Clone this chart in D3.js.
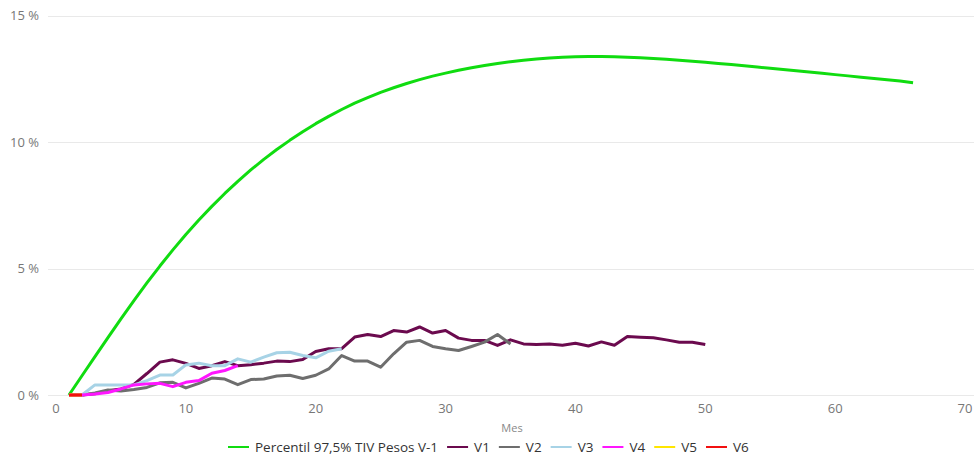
<!DOCTYPE html>
<html>
<head>
<meta charset="utf-8">
<script src="https://cdn.jsdelivr.net/npm/d3@7"></script>
<style>
  body { margin: 0; background: #fff; }
  svg text { font-family: "Segoe UI", "Open Sans", "Noto Sans", sans-serif; }
</style>
</head>
<body>
<div id="chart"></div>
<script>
// months on x axis, values in %
const percentil = [
    0, 0.76, 1.52, 2.27, 3.01, 3.73, 4.43, 5.10, 5.74, 6.35,
    6.92, 7.46, 7.97, 8.45, 8.90, 9.32, 9.71, 10.07, 10.41, 10.73,
    11.02, 11.29, 11.54, 11.76, 11.97, 12.15, 12.32, 12.47, 12.61, 12.73,
    12.84, 12.94, 13.03, 13.11, 13.18, 13.24, 13.29, 13.33, 13.36, 13.38,
    13.39, 13.39, 13.38, 13.36, 13.34, 13.31, 13.28, 13.24, 13.20, 13.16,
    13.11, 13.07, 13.02, 12.97, 12.92, 12.87, 12.82, 12.77, 12.72, 12.67,
    12.62, 12.57, 12.52, 12.47, 12.42, 12.35
];

// V1: months 1..50
const v1 = [
    0, 0, 0.05, 0.17, 0.24, 0.42, 0.85, 1.3, 1.39, 1.25,
    1.05, 1.16, 1.32, 1.16, 1.2, 1.26, 1.34, 1.32, 1.4, 1.72,
    1.83, 1.83, 2.29, 2.39, 2.31, 2.55, 2.49, 2.69, 2.45, 2.55,
    2.25, 2.16, 2.16, 1.96, 2.18, 2.02, 2.0, 2.02, 1.97, 2.05,
    1.94, 2.1, 1.97, 2.31, 2.28, 2.26, 2.18, 2.09, 2.09, 2.0
];
// V2: months 1..35
const v2 = [
    0, 0, 0.08, 0.2, 0.16, 0.22, 0.3, 0.48, 0.5, 0.28,
    0.46, 0.67, 0.63, 0.41, 0.61, 0.63, 0.75, 0.78, 0.65, 0.78,
    1.03, 1.56, 1.34, 1.34, 1.1, 1.63, 2.09, 2.16, 1.92, 1.83,
    1.76, 1.92, 2.09, 2.39, 2.02
];
// V3: months 1..22
const v3 = [
    0, 0, 0.4, 0.4, 0.4, 0.4, 0.57, 0.79, 0.79, 1.19,
    1.26, 1.16, 1.16, 1.43, 1.3, 1.5, 1.67, 1.69, 1.56, 1.47,
    1.73, 1.83
];
// V4: months 1..14
const v4 = [0, 0, 0.04, 0.1, 0.24, 0.4, 0.44, 0.46, 0.33, 0.5, 0.57, 0.86, 0.97, 1.16];
const v5 = [0, 0];
const v6 = [0, 0];

const seriesNames = ['Percentil 97,5% TIV Pesos V-1', 'V1', 'V2', 'V3', 'V4', 'V5', 'V6'];
const seriesValues = [percentil, v1, v2, v3, v4, v5, v6];
const seriesColors = ['#10dc10', '#6b0a4e', '#6e6e6e', '#a7d3e6', '#ff16ff', '#ffe600', '#f21010'];

const xTicks = [0, 10, 20, 30, 40, 50, 60, 70];
const yTicks = [0, 5, 10, 15];

const width = 974, height = 457;

const svg = d3.select('#chart')
    .append('svg')
    .attr('width', width)
    .attr('height', height);

const x = d3.scaleLinear().domain([0, 70]).range([56, 965]);
const y = d3.scaleLinear().domain([0, 15]).range([395, 15.7]);

// gridlines
svg.append('g')
    .selectAll('line')
    .data(yTicks)
    .enter()
    .append('line')
    .attr('x1', 48)
    .attr('x2', width)
    .attr('y1', d => Math.round(y(d)) + 0.5)
    .attr('y2', d => Math.round(y(d)) + 0.5)
    .attr('stroke', '#e9e9e9')
    .attr('stroke-width', 1);

// y labels
svg.append('g')
    .selectAll('text')
    .data(yTicks)
    .enter()
    .append('text')
    .attr('x', 39)
    .attr('y', d => y(d))
    .attr('dy', '0.35em')
    .attr('text-anchor', 'end')
    .style('fill', '#777')
    .style('font-size', '13px')
    .text(d => d + ' %');

// x labels
svg.append('g')
    .selectAll('text')
    .data(xTicks)
    .enter()
    .append('text')
    .attr('x', d => x(d))
    .attr('y', 408)
    .attr('dy', '0.35em')
    .attr('text-anchor', 'middle')
    .style('fill', '#777')
    .style('font-size', '13px')
    .text(d => d);

svg.append('text')
    .attr('x', 512)
    .attr('y', 428)
    .attr('dy', '0.35em')
    .attr('text-anchor', 'middle')
    .style('fill', '#888')
    .style('font-size', '11px')
    .text('Mes');

// lines
const line = d3.line()
    .x((d, i) => x(i + 1))
    .y(d => y(d));

svg.append('g')
    .selectAll('path')
    .data(seriesValues)
    .enter()
    .append('path')
    .attr('d', d => line(d))
    .attr('fill', 'none')
    .attr('stroke', (d, i) => seriesColors[i])
    .attr('stroke-width', 3)
    .attr('stroke-linejoin', 'round');

// legend
const legend = svg.append('g');
const items = legend.selectAll('.legend-item')
    .data(seriesNames)
    .enter()
    .append('g')
    .attr('class', 'legend-item');

items.append('line')
    .attr('x1', 0)
    .attr('x2', 21)
    .attr('y1', 447)
    .attr('y2', 447)
    .attr('stroke', (d, i) => seriesColors[i])
    .attr('stroke-width', 2);

items.append('text')
    .attr('x', 27)
    .attr('y', 447)
    .attr('dy', '0.35em')
    .style('fill', '#333')
    .style('font-size', '13.5px')
    .text(d => d);

let offset = 0;
items.each(function () {
    const g = d3.select(this);
    const w = 27 + g.select('text').node().getComputedTextLength();
    g.attr('transform', `translate(${offset},0)`);
    offset += w + 9;
});
const total = offset - 9;
legend.attr('transform', `translate(${Math.round(488 - total / 2)},0)`);
</script>
</body>
</html>
